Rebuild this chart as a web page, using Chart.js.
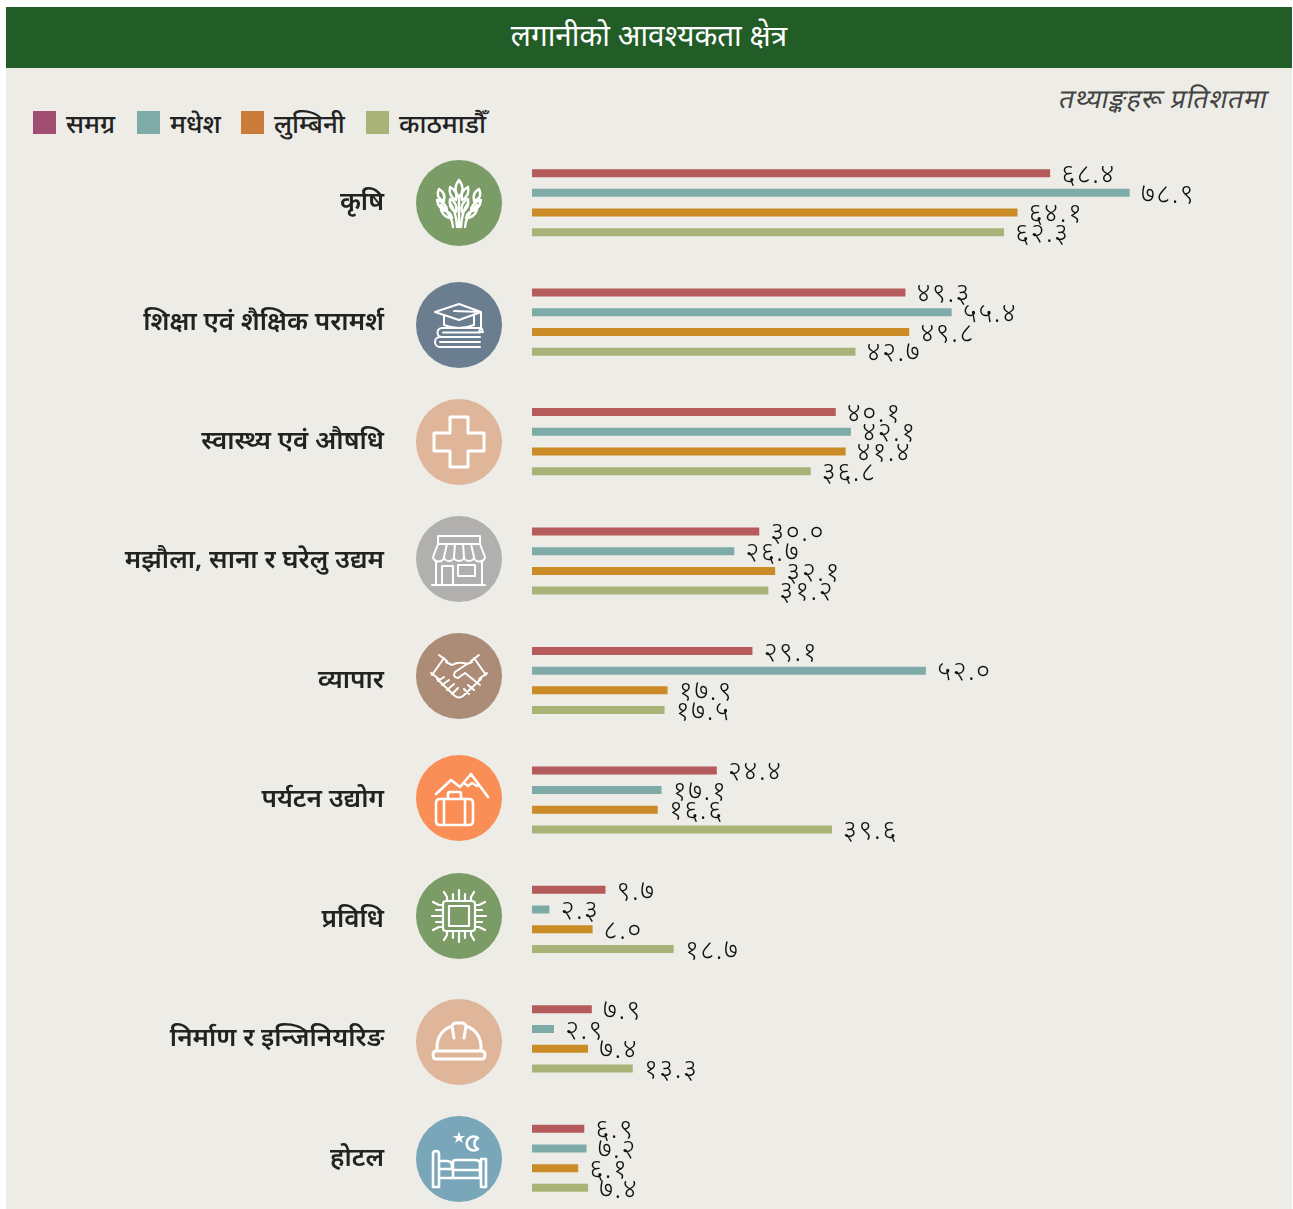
<!DOCTYPE html>
<html>
<head>
<meta charset="utf-8">
<title>लगानीको आवश्यकता क्षेत्र</title>
<script src="https://cdn.jsdelivr.net/npm/chart.js@4/dist/chart.umd.min.js"></script>
<style>
	html, body { margin: 0; padding: 0; background: #fff; overflow: hidden; height: 1209px; }
	body, canvas { font-family: "Noto Sans", sans-serif; }
	#plate { position: absolute; left: 6px; top: 68px; width: 1286px; height: 1141px; background: #edece7; }
	#head { position: absolute; left: 6px; top: 7px; width: 1286px; height: 61px; background: #225c26; color: #fff;
		font-size: 29.7px; font-weight: 400; line-height: 56px; text-align: center; }
	#note { position: absolute; right: 25px; top: 80px; font-size: 26.5px; letter-spacing: 0.8px; color: #444; transform: skewX(-12deg); }
	#legend { position: absolute; left: 33px; top: 105px; height: 36px; }
	#legend span { position: absolute; top: 0; white-space: nowrap; font-size: 26px; font-weight: 500; color: #222; line-height: 36px; }
	#legend i { position: absolute; top: 6px; width: 23px; height: 23px; }
	#cv { position: absolute; left: 0; top: 0; }
</style>
</head>
<body>
<div id="plate"></div>
<div id="head">लगानीको आवश्यकता क्षेत्र</div>
<div id="note">तथ्याङ्कहरू प्रतिशतमा</div>
<div id="legend"></div>
<canvas id="cv" width="1293" height="1222"></canvas>
<script>
var categories = ["कृषि", "शिक्षा एवं शैक्षिक परामर्श", "स्वास्थ्य एवं औषधि", "मझौला, साना र घरेलु उद्यम", "व्यापार", "पर्यटन उद्योग", "प्रविधि", "निर्माण र इन्जिनियरिङ", "होटल"];
var seriesNames = ["समग्र", "मधेश", "लुम्बिनी", "काठमाडौँ"];
var samagra = [68.4, 49.3, 40.1, 30.0, 29.1, 24.4, 9.7, 7.9, 6.9];
var madhesh = [78.9, 55.4, 42.1, 26.7, 52.0, 17.1, 2.3, 2.9, 7.2];
var lumbini = [64.1, 49.8, 41.4, 32.1, 17.9, 16.6, 8.0, 7.4, 6.1];
var kathmandu = [62.3, 42.7, 36.8, 31.2, 17.5, 39.6, 18.7, 13.3, 7.4];

var barColors = ["#b55b5b", "#7eaba8", "#cb8b26", "#a9b378"];
var legendColors = ["#a24e72", "#7faba8", "#cb7b3a", "#a9b378"];

// legend swatches, left edges measured from the legend box
var legendX = [0, 104, 208, 333];
var legendBox = document.getElementById("legend");
seriesNames.forEach(function (name, i) {
	var sw = document.createElement("i");
	sw.style.left = legendX[i] + "px";
	sw.style.background = legendColors[i];
	var tx = document.createElement("span");
	tx.style.left = (legendX[i] + 33) + "px";
	tx.textContent = name;
	legendBox.appendChild(sw);
	legendBox.appendChild(tx);
});

function toNepali(v) {
	return v.toFixed(1).replace(/[0-9]/g, function (d) {
		return "०१२३४५६७८९".charAt(+d);
	});
}

// circle icons, drawn white, origin is the circle centre
var icons = [
	{ y: 203, color: "#7b9c66", lw: 2.4, path: "M-2,24 Q-3,8 -9,0 M2,24 Q3,8 9,0 M0,24 V-4 M-6,24 Q-7,12 -18,2 M6,24 Q7,12 18,2 M0,-23 Q-7,-14 0,-6 Q7,-14 0,-23 M-9,-16 Q-11,-7 -3,-3 Q-1,-12 -9,-16 M9,-16 Q11,-7 3,-3 Q1,-12 9,-16 M-9,-4 Q-11,5 -3,9 Q-1,0 -9,-4 M9,-4 Q11,5 3,9 Q1,0 9,-4 M-20,-14 Q-24,-5 -15,-2 Q-13,-10 -20,-14 M20,-14 Q24,-5 15,-2 Q13,-10 20,-14 M-22,-3 Q-21,6 -12,8 Q-12,0 -22,-3 M22,-3 Q21,6 12,8 Q12,0 22,-3 M-18,7 Q-15,15 -7,15 Q-8,8 -18,7 M18,7 Q15,15 7,15 Q8,8 18,7" },
	{ y: 325, color: "#6a7e8f", path: "M0,-21 L-24,-13 L0,-5 L22,-13 Z M-15,-9 V0 Q0,6 15,0 V-9 M-5,-14 L22,-13 V2 M20,7 L22,2 L24,7 Z M21,3 H-17 A4.5,4.5 0 0 0 -17,12 H21 M21,7.5 H-16 M-19,12 A5,5 0 0 0 -19,22 H21 M21,17 H-19" },
	{ y: 442, color: "#dfb699", lw: 3, path: "M-9,-25 H9 V-9 H25 V9 H9 V25 H-9 V9 H-25 V-9 H-9 Z" },
	{ y: 559, color: "#b1b0ae", path: "M-21,-23 H21 V-15 H-21 Z M-21,-15 L-26,-2 M21,-15 L26,-2 M-12,-15 L-15,-2 M-4,-15 L-5,-2 M4,-15 L5,-2 M12,-15 L15,-2 M-26,-2 A5,4 0 0 0 -15,-2 A5,4 0 0 0 -5,-2 A5,4 0 0 0 5,-2 A5,4 0 0 0 15,-2 A5,4 0 0 0 26,-2 M-23,2 V26 M23,2 V26 M-27,26 H26 M-17,26 V7 H-6 V26 M-1,6 H16 V17 H-1 Z" },
	{ y: 676, color: "#ac8c76", path: "M-27,-1 L-15,-18 M-20,-21 L-12,-15 M27,-1 L15,-18 M20,-21 L12,-15 M-28,-3 L-20,3 M28,-3 L20,3 M-13,-14 L-7,-11 Q0,-15 8,-12 L13,-14 M8,-12 L-4,-4 Q-7,1 -1,2 L6,-3 L21,9 M22,3 L4,20 Q0,23 -4,20 L-22,3 M-21,5 L-15,1 M-17,9 L-10,4 M-12,14 L-5,8 M-7,18 L-1,12 M15,14 L9,9 M10,18 L5,13" },
	{ y: 798, color: "#f98f57", lw: 2.6, path: "M-23,-4 L-8,-18 L1,-11 L12,-24 L29,-1 M5,-15 L9,-12 L13,-15 L18,-12 M-19,1 H10 Q14,1 14,5 V23 Q14,27 10,27 H-19 Q-23,27 -23,23 V5 Q-23,1 -19,1 Z M-15,1 V27 M6,1 V27 M-11,1 V-4 Q-11,-6 -9,-6 H0 Q2,-6 2,-4 V1" },
	{ y: 916, color: "#7b9c66", lw: 2.2, path: "M-13,-15 H13 Q16,-15 16,-12 V12 Q16,15 13,15 H-13 Q-16,15 -16,12 V-12 Q-16,-15 -13,-15 Z M-10,-10 H10 V10 H-10 Z M0,-15 V-26 M0,15 V26 M-16,0 H-27 M16,0 H27 M-6,-15 V-22 M6,-15 V-22 M-6,15 V22 M6,15 V22 M-16,-6 H-23 M-16,6 H-23 M16,-6 H23 M16,6 H23 M-12,-15 V-19 L-15,-24 M12,-15 V-19 L15,-24 M-12,15 V19 L-15,24 M12,15 V19 L15,24 M-16,-11 H-20 L-26,-14 M16,-11 H20 L26,-14 M-16,11 H-20 L-26,14 M16,11 H20 L26,14" },
	{ y: 1042, color: "#dfb699", lw: 3, path: "M-22,9 V4 Q-21,-11 -7,-16 L-5,-4 M-7,-16 Q-6,-19 -3,-19 H3 Q6,-19 7,-16 L5,-4 M7,-16 Q21,-11 22,4 V9 M-23,9 H23 Q26,9 26,13 Q26,17 23,17 H-23 Q-26,17 -26,13 Q-26,9 -23,9 Z" },
	{ y: 1159, color: "#79a6b8", lw: 2.6, path: "M-26,-5 Q-26,-8 -23,-8 Q-20,-8 -20,-5 V28 H-26 Z M-20,19 H22 V28 H27 V0 H22 V19 M-20,2 H-12 Q-7,2 -7,7 V10 H-20 M-6,11 V19 M21,11 H-6 V3 Q-6,1 -3,1 H16 Q21,1 21,5 V19 M19,-21 A7,7 0 1 0 19,-10 A6,6 0 0 1 19,-21 Z" }
];

var iconPlugin = {
	id: "iconPlugin",
	afterDraw: function (chart) {
		var ctx = chart.ctx;
		icons.forEach(function (ic) {
			ctx.save();
			ctx.translate(459, ic.y);
			ctx.fillStyle = ic.color;
			ctx.beginPath();
			ctx.arc(0, 0, 43, 0, Math.PI * 2);
			ctx.fill();
			ctx.strokeStyle = "#fff";
			ctx.lineWidth = ic.lw || 2;
			ctx.lineCap = "round";
			ctx.lineJoin = "round";
			ctx.stroke(new Path2D(ic.path));
			ctx.restore();
		});
		// the little star over the bed
		ctx.save();
		ctx.fillStyle = "#fff";
		ctx.font = "16px 'DejaVu Sans'";
		ctx.textAlign = "center";
		ctx.textBaseline = "middle";
		ctx.fillText("★", 459, 1139);
		ctx.restore();
	}
};

// numbers at the end of the bars
var valueLabels = {
	id: "valueLabels",
	afterDatasetsDraw: function (chart) {
		var ctx = chart.ctx;
		ctx.save();
		ctx.fillStyle = "#111";
		ctx.font = "300 27px 'Noto Sans'";
		ctx.letterSpacing = "1.5px";
		ctx.textAlign = "left";
		ctx.textBaseline = "middle";
		chart.data.datasets.forEach(function (ds, d) {
			chart.getDatasetMeta(d).data.forEach(function (bar, i) {
				ctx.fillText(toNepali(ds.data[i]), bar.x + 11, bar.y + 2);
			});
		});
		ctx.restore();
	}
};

var seriesValues = [samagra, madhesh, lumbini, kathmandu];

var chart = new Chart(document.getElementById("cv"), {
	type: "bar",
	data: {
		labels: categories,
		datasets: seriesValues.map(function (vals, i) {
			return {
				label: seriesNames[i],
				data: vals,
				backgroundColor: barColors[i],
				borderWidth: 0,
				categoryPercentage: 0.66,
				barPercentage: 0.406
			};
		})
	},
	options: {
		indexAxis: "y",
		responsive: false,
		animation: false,
		layout: { padding: { top: 143, bottom: 4, left: 0, right: 3.5 } },
		plugins: {
			legend: { display: false },
			title: { display: false },
			tooltip: { enabled: false }
		},
		scales: {
			x: { display: false, min: 0, max: 100 },
			y: {
				afterFit: function (scale) {
					scale.width = 532;
					// tick padding also counts vertically, the row height must not lose it
					scale.paddingTop = 0;
					scale.paddingBottom = 0;
				},
				grid: { display: false, drawTicks: false },
				border: { display: false },
				ticks: {
					autoSkip: false,
					padding: 148,
					color: "#222",
					font: { family: "'Noto Sans'", size: 26, weight: "600" }
				}
			}
		}
	},
	plugins: [iconPlugin, valueLabels]
});
</script>
</body>
</html>
